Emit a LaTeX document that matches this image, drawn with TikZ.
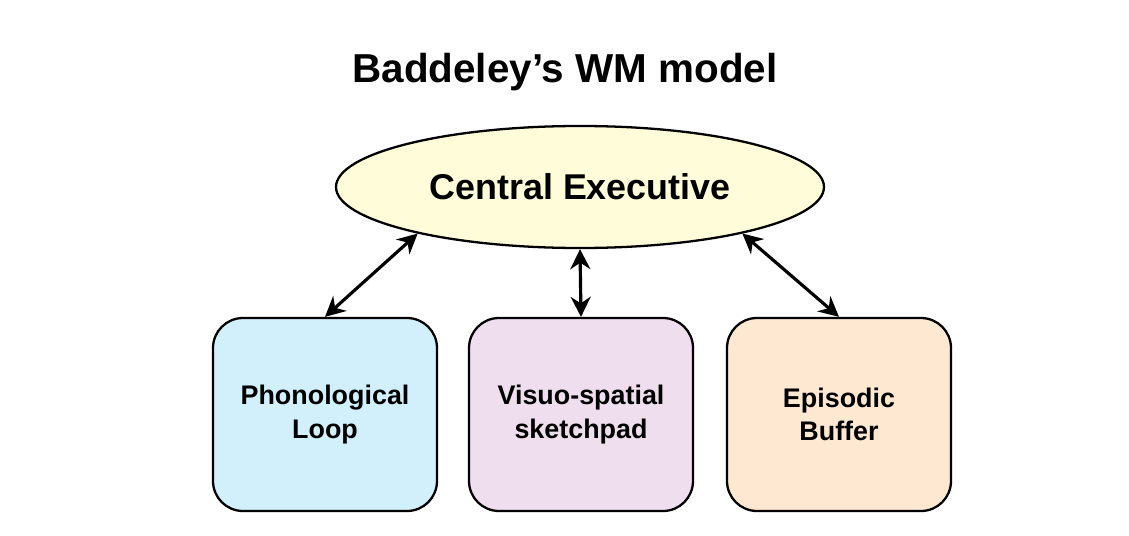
\documentclass[tikz,border=0pt]{standalone}
\usepackage{fontspec}
\setmainfont{Liberation Sans}
\usetikzlibrary{shapes.geometric,arrows.meta,positioning}
\begin{document}
\begin{tikzpicture}
                [
                    execnode/.style={ellipse, draw=black, fill=yellow!15, line width=1.3pt, minimum width=9.76cm, minimum height=2.44cm, font=\fontsize{20.4}{24}\selectfont\bfseries},
                    storebox/.style={rectangle, rounded corners=0.6cm, draw=black, line width=1.3pt, minimum width=4.48cm, minimum height=3.86cm, align=center, font=\fontsize{15.3}{19}\selectfont\bfseries},
                    linkarrow/.style={{Stealth[length=4mm,width=4mm]}-{Stealth[length=4mm,width=4mm]}, line width=1.8pt}
                ]
                \useasboundingbox (0,0) rectangle (22.58,10.7);

                \node [font=\fontsize{23}{27}\selectfont\bfseries] (title) at (11.3,9.26) {Baddeley’s WM model};
                \node [execnode] (exec) at (11.6,6.96) {Central Executive};

                \node [storebox, fill=cyan!18] (phon) at (6.5,2.41) {Phonological\\Loop};
                \node [storebox, fill=violet!13] (visuo) at (11.62,2.41) {Visuo-spatial\\sketchpad};
                \node [storebox, fill=orange!18] (episodic) at (16.78,2.41) {Episodic\\Buffer};

                \draw [linkarrow] (exec.196) -- (phon.north);
                \draw [linkarrow] (exec.south) -- (visuo.north);
                \draw [linkarrow] (exec.-16) -- (episodic.north);
\end{tikzpicture}
\end{document}
